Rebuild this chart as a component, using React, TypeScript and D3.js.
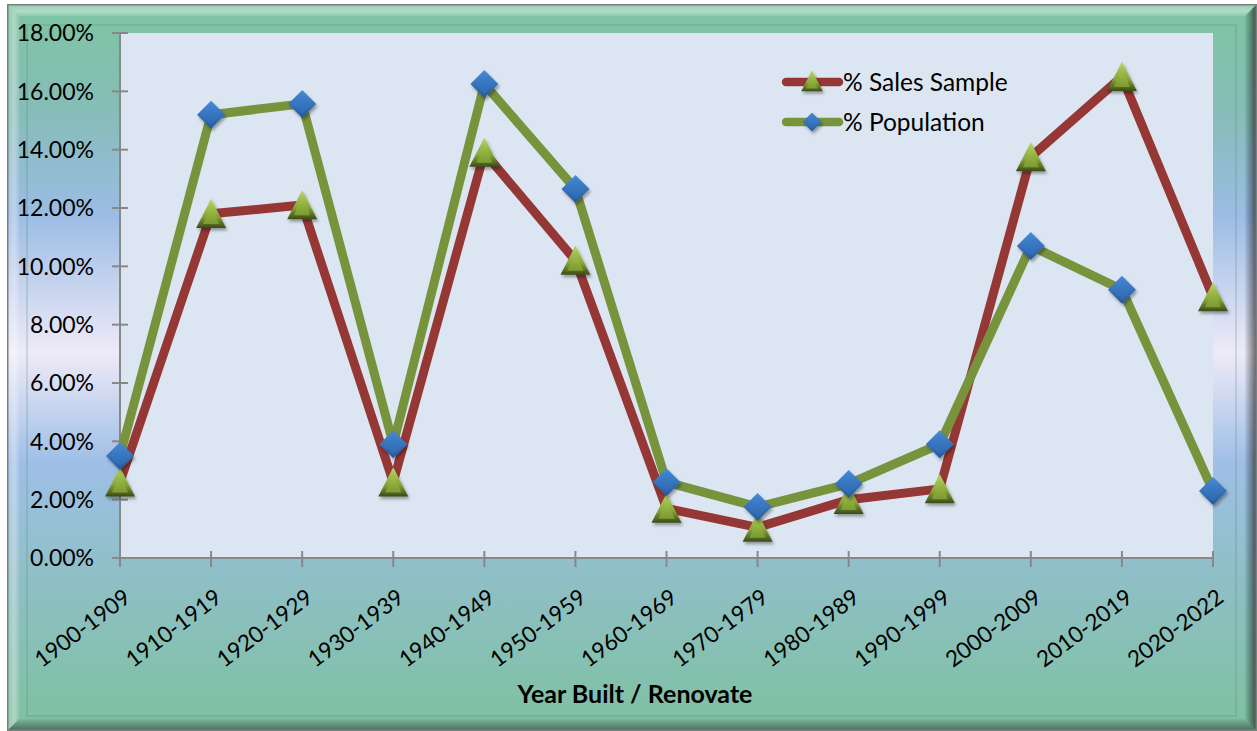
import React from "react";
import * as d3 from "d3";

// Year-built buckets along the category axis
const categories = [
  "1900-1909", "1910-1919", "1920-1929", "1930-1939", "1940-1949", "1950-1959",
  "1960-1969", "1970-1979", "1980-1989", "1990-1999", "2000-2009", "2010-2019", "2020-2022",
];

// Share of the sales sample per bucket
const salesSample = [
  0.026, 0.118, 0.121, 0.026, 0.139, 0.102, 0.017, 0.0105, 0.020, 0.0237, 0.1375, 0.165, 0.0895,
];

// Share of the population per bucket
const population = [
  0.035, 0.152, 0.1557, 0.039, 0.1625, 0.1265, 0.026, 0.0175, 0.0254, 0.039, 0.107, 0.092, 0.023,
];

const yTicks = [0, 0.02, 0.04, 0.06, 0.08, 0.1, 0.12, 0.14, 0.16, 0.18];

const W = 1257;
const H = 731;
const FONT = "Lato, 'Open Sans', sans-serif";

export default function App() {
  const plot = { left: 120, right: 1213, top: 33, bottom: 558 };
  const x = d3.scalePoint<string>().domain(categories).range([plot.left, plot.right]);
  const y = d3.scaleLinear().domain([0, 0.18]).range([plot.bottom, plot.top]);
  const fmt = d3.format(".2%");

  const line = d3
    .line<number>()
    .x((_, i) => x(categories[i]) as number)
    .y((d) => y(d));

  const frame = { x0: 7, y0: 4, x1: 1257, y1: 731 };
  const bev = 12;

  const triangle = (cx: number, cy: number, key: string, k = 1) => {
    const s = 15 * k;
    const b = s * 0.95;
    const outer = `M${cx},${cy - s} L${cx + s},${cy + b} L${cx - s},${cy + b} Z`;
    const inner = `M${cx},${cy - s + 6 * k} L${cx + s - 7 * k},${cy + b - 4 * k} L${cx - s + 7 * k},${cy + b - 4 * k} Z`;
    return (
      <g key={key} filter="url(#markShadow)">
        <path d={outer} fill="url(#triOuter)" />
        <path d={inner} fill="url(#triInner)" />
      </g>
    );
  };

  const diamond = (cx: number, cy: number, key: string, k = 1) => {
    const s = 14 * k;
    const g = 4 * k;
    const outer = `M${cx},${cy - s} L${cx + s},${cy} L${cx},${cy + s} L${cx - s},${cy} Z`;
    const inner = `M${cx},${cy - s + g} L${cx + s - g},${cy} L${cx},${cy + s - g} L${cx - s + g},${cy} Z`;
    return (
      <g key={key} filter="url(#markShadow)">
        <path d={outer} fill="url(#diaOuter)" />
        <path d={inner} fill="url(#diaInner)" />
      </g>
    );
  };

  const legendItems = [
    { label: "% Sales Sample", color: "#953735", marker: "tri", y: 82 },
    { label: "% Population", color: "#77933c", marker: "dia", y: 122 },
  ];

  return (
    <svg width={W} height={H} style={{ position: "absolute", left: 0, top: 0 }}>
      <defs>
        <linearGradient id="bg" x1="0" y1="0" x2="0" y2="1">
          <stop offset="0" stopColor="#7ec5a2" />
          <stop offset="0.15" stopColor="#86bdb8" />
          <stop offset="0.29" stopColor="#9bbce4" />
          <stop offset="0.48" stopColor="#eeeaf8" />
          <stop offset="0.63" stopColor="#9fbfe6" />
          <stop offset="0.8" stopColor="#8ebfc4" />
          <stop offset="1" stopColor="#7ec1a0" />
        </linearGradient>
        <linearGradient id="rightBevel" x1="0" y1="0" x2="1" y2="0">
          <stop offset="0" stopColor="#000" stopOpacity="0.05" />
          <stop offset="1" stopColor="#000" stopOpacity="0.6" />
        </linearGradient>
        <linearGradient id="bottomBevel" x1="0" y1="0" x2="0" y2="1">
          <stop offset="0" stopColor="#000" stopOpacity="0.05" />
          <stop offset="1" stopColor="#000" stopOpacity="0.45" />
        </linearGradient>
        <linearGradient id="topBevel" x1="0" y1="0" x2="0" y2="1">
          <stop offset="0" stopColor="#fff" stopOpacity="0.15" />
          <stop offset="0.6" stopColor="#fff" stopOpacity="0.4" />
          <stop offset="1" stopColor="#fff" stopOpacity="0.1" />
        </linearGradient>
        <linearGradient id="leftBevel" x1="0" y1="0" x2="1" y2="0">
          <stop offset="0" stopColor="#fff" stopOpacity="0.1" />
          <stop offset="0.6" stopColor="#fff" stopOpacity="0.35" />
          <stop offset="1" stopColor="#fff" stopOpacity="0.1" />
        </linearGradient>
        <linearGradient id="triOuter" x1="0" y1="0" x2="0" y2="1">
          <stop offset="0" stopColor="#b9d66a" />
          <stop offset="0.6" stopColor="#87a637" />
          <stop offset="1" stopColor="#3b4a17" />
        </linearGradient>
        <linearGradient id="triInner" x1="0" y1="0" x2="0" y2="1">
          <stop offset="0" stopColor="#a5c64e" />
          <stop offset="1" stopColor="#7c9a30" />
        </linearGradient>
        <linearGradient id="diaOuter" x1="0" y1="0" x2="0" y2="1">
          <stop offset="0" stopColor="#4a8cd6" />
          <stop offset="1" stopColor="#25599b" />
        </linearGradient>
        <linearGradient id="diaInner" x1="0" y1="0" x2="0" y2="1">
          <stop offset="0" stopColor="#3f82cf" />
          <stop offset="1" stopColor="#2f69b0" />
        </linearGradient>
        <filter id="markShadow" x="-50%" y="-50%" width="200%" height="200%">
          <feDropShadow dx="1.5" dy="2.5" stdDeviation="1.5" floodColor="#000" floodOpacity="0.35" />
        </filter>
      </defs>

      {/* chart area with beveled frame */}
      <rect x={frame.x0} y={frame.y0} width={frame.x1 - frame.x0} height={frame.y1 - frame.y0} fill="url(#bg)" />
      <path
        d={`M${frame.x0},${frame.y0} L${frame.x1},${frame.y0} L${frame.x1 - bev},${frame.y0 + bev} L${frame.x0 + bev},${frame.y0 + bev} Z`}
        fill="url(#topBevel)"
      />
      <path
        d={`M${frame.x0},${frame.y0} L${frame.x0 + bev},${frame.y0 + bev} L${frame.x0 + bev},${frame.y1 - bev} L${frame.x0},${frame.y1} Z`}
        fill="url(#leftBevel)"
      />
      <path
        d={`M${frame.x1},${frame.y0} L${frame.x1},${frame.y1} L${frame.x1 - bev},${frame.y1 - bev} L${frame.x1 - bev},${frame.y0 + bev} Z`}
        fill="url(#rightBevel)"
      />
      <path
        d={`M${frame.x0},${frame.y1} L${frame.x1},${frame.y1} L${frame.x1 - bev},${frame.y1 - bev} L${frame.x0 + bev},${frame.y1 - bev} Z`}
        fill="url(#bottomBevel)"
      />
      <rect
        x={frame.x0 + 20}
        y={frame.y0 + 21}
        width={frame.x1 - frame.x0 - 41}
        height={frame.y1 - frame.y0 - 36}
        fill="none"
        stroke="#4a8a70"
        strokeOpacity={0.35}
        strokeWidth={1.2}
      />
      <rect
        x={frame.x0 + 0.75}
        y={frame.y0 + 0.75}
        width={frame.x1 - frame.x0 - 1.5}
        height={frame.y1 - frame.y0 - 1.5}
        fill="none"
        stroke="#7f7f7f"
        strokeWidth={1.5}
      />

      {/* plot area */}
      <rect x={plot.left} y={plot.top} width={plot.right - plot.left} height={plot.bottom - plot.top} fill="#dce6f2" />

      {/* y axis */}
      <line x1={plot.left} x2={plot.left} y1={plot.top} y2={plot.bottom} stroke="#888" strokeWidth={2} />
      {yTicks.map((t) => (
        <g key={t}>
          <line x1={plot.left - 8} x2={plot.left + 8} y1={y(t)} y2={y(t)} stroke="#888" strokeWidth={2} />
          <text x={94} y={y(t)} dy="0.36em" textAnchor="end" fontFamily={FONT} fontSize={23} fill="#000">
            {fmt(t)}
          </text>
        </g>
      ))}

      {/* x axis */}
      <line x1={plot.left} x2={plot.right} y1={plot.bottom} y2={plot.bottom} stroke="#888" strokeWidth={2} />
      {categories.map((c) => (
        <g key={c}>
          <line x1={x(c)} x2={x(c)} y1={plot.bottom - 7} y2={plot.bottom + 9} stroke="#888" strokeWidth={2} />
          <text
            transform={`translate(${(x(c) as number) + 2},${plot.bottom + 29}) rotate(-37)`}
            dy="0.75em"
            textAnchor="end"
            fontFamily={FONT}
            fontSize={22.5}
            fill="#000"
          >
            {c}
          </text>
        </g>
      ))}
      <text x={635} y={703} textAnchor="middle" fontFamily={FONT} fontWeight="bold" fontSize={25} fill="#000">
        Year Built / Renovate
      </text>

      {/* series lines */}
      <path d={line(salesSample) ?? ""} fill="none" stroke="#953735" strokeWidth={9} strokeLinejoin="round" />
      <path d={line(population) ?? ""} fill="none" stroke="#77933c" strokeWidth={9} strokeLinejoin="round" />

      {/* markers */}
      {salesSample.map((v, i) => triangle(x(categories[i]) as number, y(v), `s${i}`))}
      {population.map((v, i) => diamond(x(categories[i]) as number, y(v), `p${i}`))}

      {/* legend */}
      {legendItems.map((it) => (
        <g key={it.label}>
          <line x1={786} x2={839} y1={it.y} y2={it.y} stroke={it.color} strokeWidth={8.5} strokeLinecap="round" />
          {it.marker === "tri" ? triangle(812, it.y - 1, "lt", 0.72) : diamond(812, it.y, "ld", 0.68)}
          <text x={843} y={it.y} dy="0.36em" fontFamily={FONT} fontSize={24.5} fill="#000">
            {it.label}
          </text>
        </g>
      ))}
    </svg>
  );
}
